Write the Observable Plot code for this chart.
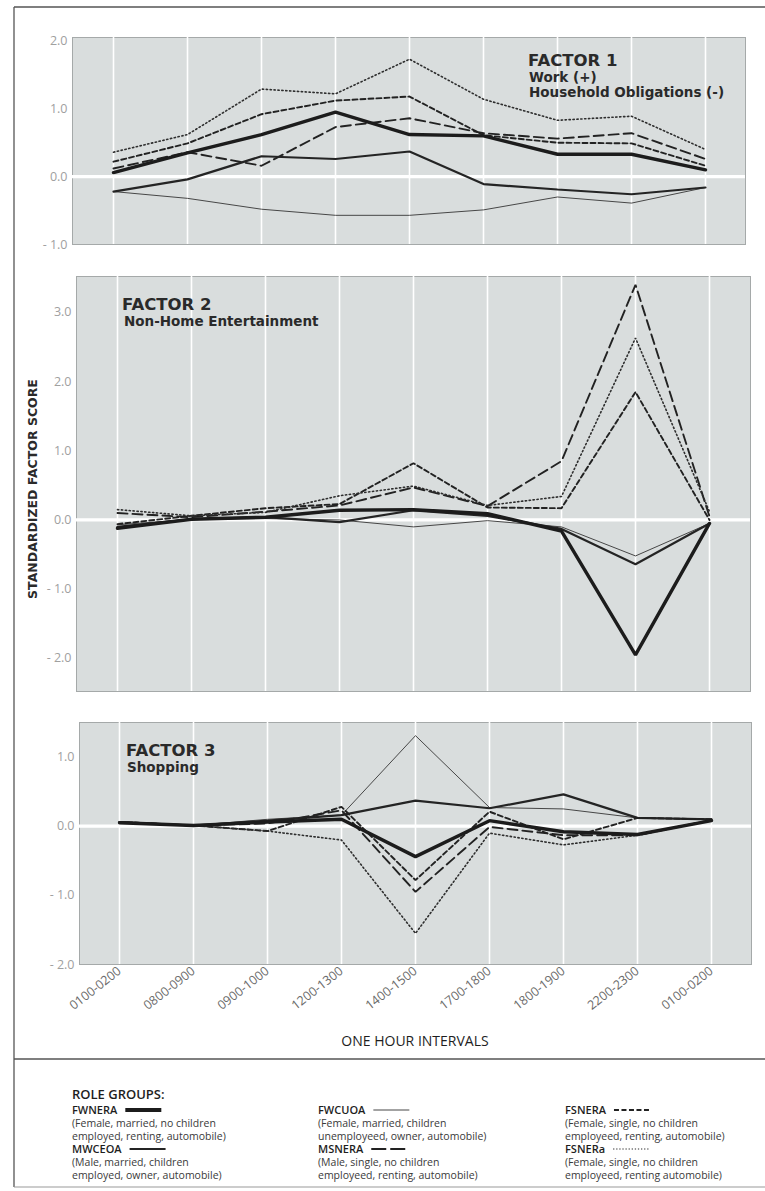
<!DOCTYPE html>
<html><head><meta charset="utf-8">
<script src="https://cdn.jsdelivr.net/npm/d3@7"></script>
<script src="https://cdn.jsdelivr.net/npm/@observablehq/plot@0.6"></script>
<style>
body{margin:0;background:#fff;}
#page{position:relative;width:765px;height:1191px;overflow:hidden;background:#fff;}
#page > div, #page > svg{position:absolute;left:0;}
</style></head>
<body><div id="page"></div>
<script>
// ---- categories ----
const intervals = ["0100-0200","0800-0900","0900-1000","1200-1300","1400-1500","1700-1800","1800-1900","2200-2300","0100-0200"];
const groups = ["FWCUOA","MWCEOA","MSNERA","FSNERA","FSNERa","FWNERA"];

// ---- Factor 1: Work (+) / Household Obligations (-) ----
const f1FWNERA = [0.06,0.35,0.62,0.95,0.62,0.60,0.33,0.33,0.10];
const f1MWCEOA = [-0.22,-0.04,0.30,0.26,0.37,-0.11,-0.19,-0.26,-0.16];
const f1FWCUOA = [-0.22,-0.32,-0.48,-0.57,-0.57,-0.49,-0.30,-0.39,-0.16];
const f1MSNERA = [0.12,0.36,0.16,0.73,0.86,0.64,0.56,0.64,0.26];
const f1FSNERA = [0.22,0.49,0.92,1.12,1.18,0.61,0.50,0.49,0.16];
const f1FSNERa = [0.36,0.62,1.29,1.22,1.73,1.14,0.83,0.89,0.40];

// ---- Factor 2: Non-Home Entertainment ----
const f2FWNERA = [-0.12,0.01,0.04,0.14,0.15,0.09,-0.16,-1.95,-0.05];
const f2MWCEOA = [-0.10,0.01,0.04,-0.03,0.14,0.06,-0.13,-0.64,-0.05];
const f2FWCUOA = [-0.07,0.01,0.02,0.00,-0.10,-0.01,-0.10,-0.52,-0.05];
const f2MSNERA = [0.10,0.04,0.12,0.21,0.47,0.20,0.85,3.40,0.05];
const f2FSNERA = [-0.06,0.06,0.17,0.23,0.82,0.18,0.17,1.85,0.00];
const f2FSNERa = [0.15,0.06,0.11,0.35,0.49,0.21,0.34,2.63,0.12];

// ---- Factor 3: Shopping ----
const f3FWNERA = [0.05,0.01,0.06,0.10,-0.44,0.08,-0.08,-0.12,0.08];
const f3MWCEOA = [0.06,0.01,0.08,0.16,0.37,0.26,0.46,0.12,0.10];
const f3FWCUOA = [0.06,0.01,0.10,0.16,1.31,0.27,0.25,0.12,0.10];
const f3MSNERA = [0.06,0.01,0.04,0.23,-0.95,-0.01,-0.13,-0.13,0.09];
const f3FSNERA = [0.06,0.01,-0.07,0.28,-0.78,0.21,-0.19,0.12,0.10];
const f3FSNERa = [0.06,0.01,-0.07,-0.20,-1.55,-0.10,-0.27,-0.13,0.09];

// ---- tick labels ----
const f1Ticks = [-1,0,1,2];
const f2Ticks = [-2,-1,0,1,2,3];
const f3Ticks = [-2,-1,0,1];

// ---- legend texts ----
const legendCols = [["FWNERA","MWCEOA"],["FWCUOA","MSNERA"],["FSNERA","FSNERa"]];
const legendDesc = {
  FWNERA:["(Female, married, no children","employed, renting, automobile)"],
  MWCEOA:["(Male, married, children","employed, owner, automobile)"],
  FWCUOA:["(Female, married, children","unemployeed, owner, automobile)"],
  MSNERA:["(Male, single, no children","employeed, renting, automobile)"],
  FSNERA:["(Female, single, no children","employeed, renting, automobile)"],
  FSNERa:["(Female, single, no children","employeed, renting automobile)"]
};

const style = {
  FWNERA:{w:3.4,dash:null,c:"#1c1c1c"},
  MWCEOA:{w:2.2,dash:null,c:"#242424"},
  FWCUOA:{w:1.0,dash:null,c:"#474747"},
  MSNERA:{w:1.9,dash:"10,5",c:"#222"},
  FSNERA:{w:1.9,dash:"5,3",c:"#222"},
  FSNERa:{w:1.6,dash:"1.3,2.6",c:"#2e2e2e"}
};

const idx = d3.range(intervals.length);
const fmtY = v => v < 0 ? "- " + Math.abs(v).toFixed(1) : v.toFixed(1);
const BG = "#d9dddd";

function rowsOf(obj){
  return groups.flatMap(g => obj[g].map((v,i)=>({group:g,i,v})));
}

function panel({data, domain, ticks, top, height, mt, mb, ml, mr, xAxis}){
  const rows = rowsOf(data);
  const marks = [
    Plot.frame({fill:BG, stroke:"#a5a9a9", strokeWidth:1}),
    Plot.ruleX(idx, {x:d=>d, stroke:"#ffffff", strokeWidth:1.6}),
    Plot.ruleY([0], {stroke:"#ffffff", strokeWidth:3.2}),
    Plot.axisY(ticks, {tickSize:0, tickPadding:5, tickFormat:fmtY, fill:"#a0a0a0", label:null}),
    ...groups.map(g => Plot.line(rows.filter(d=>d.group===g), {
      x:"i", y:"v", stroke:style[g].c, strokeWidth:style[g].w,
      strokeDasharray:style[g].dash, strokeLinejoin:"miter"
    }))
  ];
  if (xAxis) marks.push(Plot.axisX(idx, {tickSize:0, tickPadding:5, tickRotate:-38,
      tickFormat:i=>intervals[i], fill:"#6a6a6a", label:null}));
  const svg = Plot.plot({
    width:765, height, marginTop:mt, marginBottom:mb, marginLeft:ml, marginRight:mr,
    x:{type:"point", domain:idx, padding:0.54, axis: xAxis ? undefined : null},
    y:{domain},
    style:{background:"transparent", overflow:"visible", fontFamily:"'Open Sans', sans-serif"},
    marks
  });
  // enlarge the axis tick labels (inline style wins over the default stylesheet)
  d3.select(svg).selectAll("g[aria-label$='tick label']")
    .style("font-size","12.5px").style("font-family","'Open Sans', sans-serif");
  const wrap = document.createElement("div");
  wrap.style.top = top + "px";
  wrap.appendChild(svg);
  document.getElementById("page").appendChild(wrap);
}

const mk = (a,b,c,d,e,f) => ({FWNERA:a,MWCEOA:b,FWCUOA:c,MSNERA:d,FSNERA:e,FSNERa:f});

panel({data:mk(f1FWNERA,f1MWCEOA,f1FWCUOA,f1MSNERA,f1FSNERA,f1FSNERa),
  domain:[-1.0,2.05], ticks:f1Ticks, top:0, height:262, mt:37, mb:18, ml:72, mr:20});
panel({data:mk(f2FWNERA,f2MWCEOA,f2FWCUOA,f2MSNERA,f2FSNERA,f2FSNERa),
  domain:[-2.48,3.52], ticks:f2Ticks, top:262, height:440, mt:14, mb:11, ml:76, mr:15});
panel({data:mk(f3FWNERA,f3MWCEOA,f3FWCUOA,f3MSNERA,f3FSNERA,f3FSNERa),
  domain:[-2.0,1.5], ticks:f3Ticks, top:702, height:356, mt:20, mb:94, ml:79, mr:14, xAxis:true});

// ---- overlay: frame, titles, legend ----
const ov = d3.select("#page").append("svg").attr("width",765).attr("height",1191).style("top","0px").style("pointer-events","none");
const ln = (x1,y1,x2,y2,w,c) => ov.append("line").attr("x1",x1).attr("y1",y1).attr("x2",x2).attr("y2",y2).attr("stroke",c||"#555").attr("stroke-width",w||1.3);
ln(14,7,765,7); ln(14,7,14,1187); ln(14,1059,765,1059); ln(14,1187,765,1187,1,"#999");

const txt = (s,x,y,opt) => {
  const t = ov.append("text").attr("x",x).attr("y",y).text(s)
    .attr("font-family", opt.family || "'DejaVu Sans', sans-serif")
    .attr("font-size", opt.size).attr("font-weight", opt.weight || "bold")
    .attr("fill", opt.fill || "#2a2a2a");
  if (opt.anchor) t.attr("text-anchor", opt.anchor);
  if (opt.ls) t.attr("letter-spacing", opt.ls);
  if (opt.rotate) t.attr("transform", `rotate(${opt.rotate},${x},${y})`);
  return t;
};
txt("FACTOR 1",528,66,{size:16.5});
txt("Work (+)",529,81.5,{size:13.5});
txt("Household Obligations (-)",529,97,{size:13.5});
txt("FACTOR 2",122,310,{size:16.5});
txt("Non-Home Entertainment",124,326,{size:13.5});
txt("FACTOR 3",126,756,{size:16.5});
txt("Shopping",127,772,{size:13.5});
txt("STANDARDIZED FACTOR SCORE",37,489,{size:12.5,anchor:"middle",rotate:-90});
txt("ONE HOUR INTERVALS",415,1046,{size:14,weight:"normal",family:"'Open Sans', sans-serif",anchor:"middle",fill:"#1e1e1e"});

// legend
txt("ROLE GROUPS:",72,1099,{size:13,weight:"600",family:"'Open Sans', sans-serif",fill:"#1e1e1e"});
const colX = [72,318,565];
const rowY = [1114,1153];
legendCols.forEach((col,ci)=>{
  col.forEach((g,ri)=>{
    const x = colX[ci], y = rowY[ri];
    const t = txt(g,x,y,{size:11,weight:"600",family:"'Open Sans', sans-serif",fill:"#1e1e1e"});
    const wname = t.node().getComputedTextLength();
    const s = style[g];
    const sx = x + wname + 8;
    ov.append("line").attr("x1",sx).attr("x2",sx+36).attr("y1",y-4).attr("y2",y-4)
      .attr("stroke",s.c).attr("stroke-width", g==="FWNERA"?4:(g==="FSNERa"?1.2:(g==="FWCUOA"?1:2)))
      .attr("stroke-dasharray", g==="MSNERA"?"15,4":(g==="FSNERA"?"5,2.5":(g==="FSNERa"?"1.3,1.8":null)));
    legendDesc[g].forEach((d,k)=>{
      txt(d,x,y+13+13*k,{size:10.5,weight:"normal",family:"'Open Sans', sans-serif",fill:"#3a3a3a"});
    });
  });
});
</script>
</body></html>
